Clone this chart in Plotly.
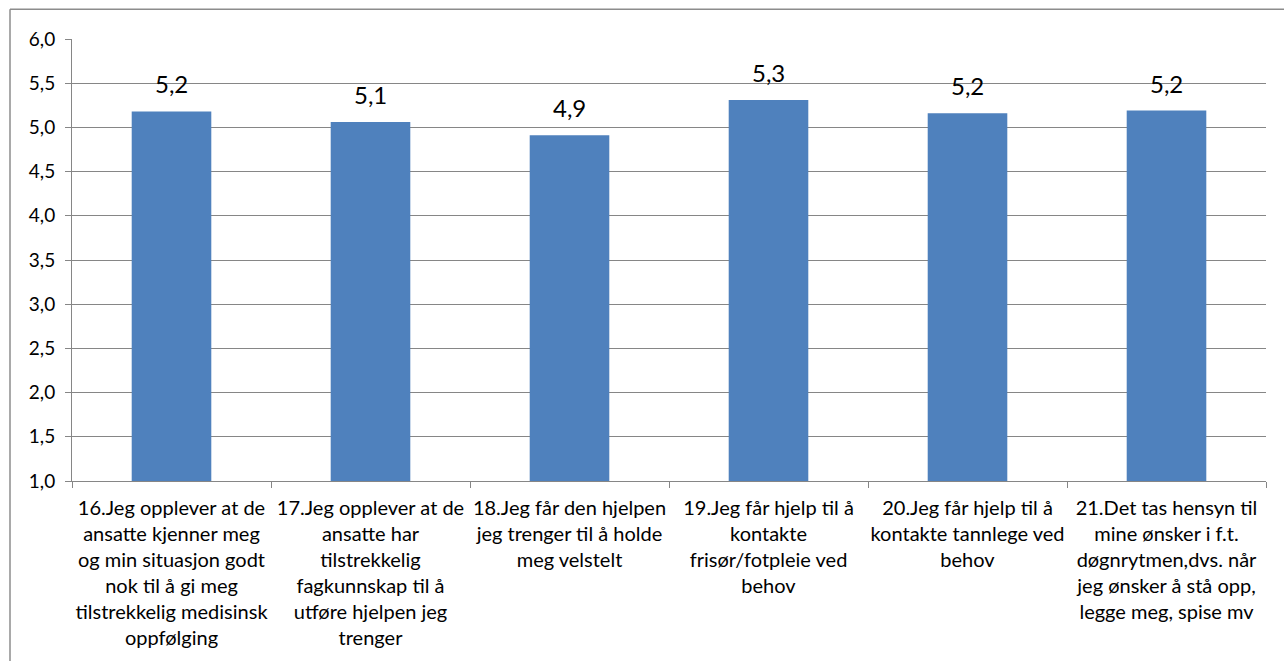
import plotly.graph_objects as go

# Survey items (Norwegian), mean scores
categories = [
    "16.Jeg opplever at de<br>ansatte kjenner meg<br>og min situasjon godt<br>nok til å gi meg<br>tilstrekkelig medisinsk<br>oppfølging",
    "17.Jeg opplever at de<br>ansatte har<br>tilstrekkelig<br>fagkunnskap til å<br>utføre hjelpen jeg<br>trenger",
    "18.Jeg får den hjelpen<br>jeg trenger til å holde<br>meg velstelt",
    "19.Jeg får hjelp til å<br>kontakte<br>frisør/fotpleie ved<br>behov",
    "20.Jeg får hjelp til å<br>kontakte tannlege ved<br>behov",
    "21.Det tas hensyn til<br>mine ønsker i f.t.<br>døgnrytmen,dvs. når<br>jeg ønsker å stå opp,<br>legge meg, spise mv",
]
scores = [5.18, 5.06, 4.91, 5.31, 5.16, 5.19]

FONT = "Lato, 'Open Sans', sans-serif"
GRID = "#868686"
BAR = "#4F81BD"

fig = go.Figure(
    go.Bar(
        x=categories,
        y=scores,
        marker=dict(color=BAR, line=dict(width=0)),
        hoverinfo="skip",
    )
)

# value labels above each bar
for c, v in zip(categories, scores):
    fig.add_annotation(
        x=c, y=v, text=f"{v:.1f}".replace(".", ","),
        showarrow=False, yanchor="bottom", yshift=11,
        font=dict(family=FONT, size=24, color="black"),
    )

fig.update_layout(
    width=1284, height=661,
    margin=dict(l=72, r=18, t=39, b=178),
    paper_bgcolor="white", plot_bgcolor="white",
    separators=",.",
    bargap=0.6,
    showlegend=False,
    font=dict(family=FONT, color="black"),
    xaxis=dict(
        type="category",
        tickson="boundaries",
        ticks="outside", ticklen=6, tickcolor=GRID,
        showline=True, linecolor=GRID, linewidth=1,
        showgrid=False,
        tickfont=dict(family=FONT, size=20, color="black"),
        tickangle=0,
        ticklabelstandoff=9,
    ),
    yaxis=dict(
        range=[1, 6], dtick=0.5, tick0=1, tickformat=".1f",
        ticks="outside", ticklen=6, tickcolor=GRID,
        showline=True, linecolor=GRID, linewidth=1,
        showgrid=True, gridcolor=GRID, gridwidth=1,
        zeroline=False,
        tickfont=dict(family=FONT, size=19, color="black"),
        ticklabelstandoff=6,
    ),
    shapes=[
        # chart frame (top and left edges)
        dict(type="line", xref="paper", yref="paper",
             x0=-62 / 1194, x1=1.02, y0=1 + 30 / 444, y1=1 + 30 / 444,
             line=dict(color="#8c8c8c", width=1.5)),
        dict(type="line", xref="paper", yref="paper",
             x0=-62 / 1194, x1=-62 / 1194, y0=1 + 30 / 444, y1=-0.41,
             line=dict(color="#8c8c8c", width=1.5)),
    ],
)

fig.write_html("out.html")
